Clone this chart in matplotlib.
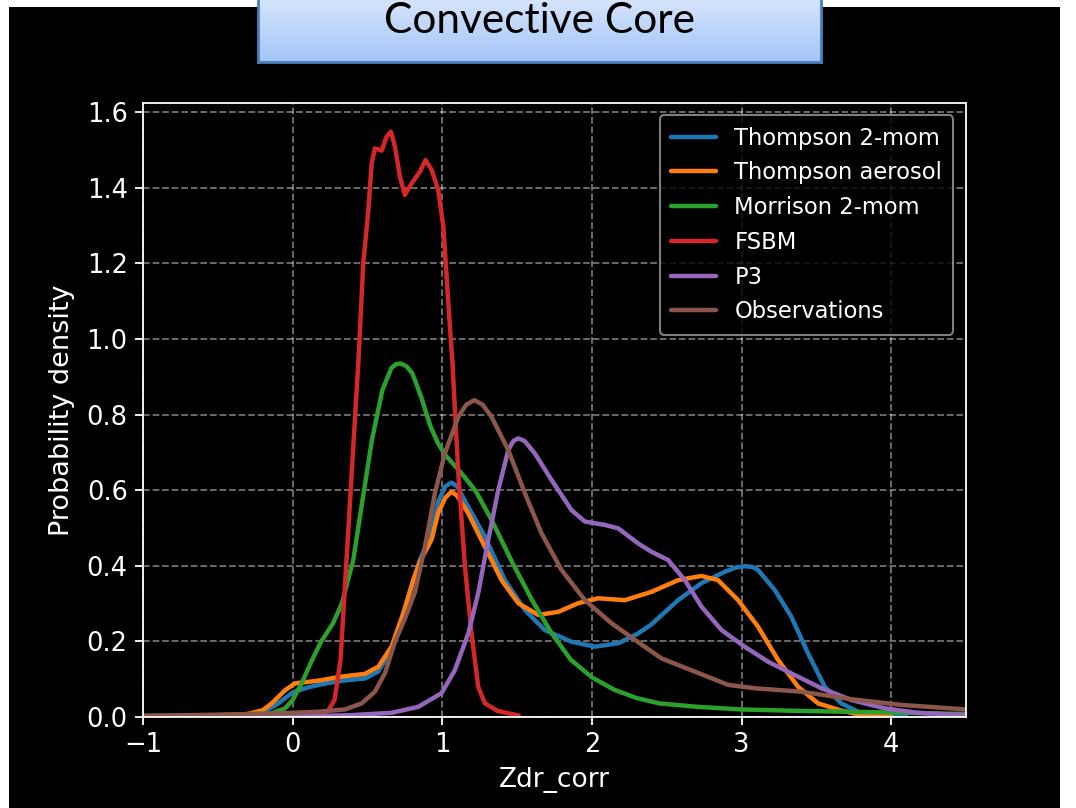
import matplotlib
matplotlib.use("Agg")
import matplotlib.pyplot as plt
import numpy as np

# ---- data ----
labels = ["Thompson 2-mom", "Thompson aerosol", "Morrison 2-mom", "FSBM", "P3", "Observations"]
colors = ["#1f77b4", "#ff7f0e", "#2ca02c", "#d62728", "#9467bd", "#8c564b"]

thompson2_x = [-1.0, -0.5, -0.3, -0.2, -0.1, 0.0, 0.1, 0.2, 0.327, 0.483, 0.572, 0.661, 0.739, 0.806,
               0.85, 0.929, 0.973, 1.02, 1.062, 1.1, 1.173, 1.285, 1.418, 1.552, 1.685, 1.864, 2.02,
               2.176, 2.309, 2.398, 2.576, 2.732, 2.888, 2.96, 3.021, 3.07, 3.11, 3.222, 3.333, 3.445,
               3.556, 3.667, 3.779, 3.9, 4.1]
thompson2_y = [0.001, 0.002, 0.006, 0.012, 0.035, 0.065, 0.078, 0.087, 0.096, 0.102, 0.12, 0.18, 0.27,
               0.36, 0.415, 0.49, 0.57, 0.61, 0.62, 0.61, 0.556, 0.477, 0.362, 0.283, 0.23, 0.199,
               0.186, 0.195, 0.221, 0.245, 0.309, 0.354, 0.384, 0.395, 0.399, 0.397, 0.389, 0.336,
               0.265, 0.168, 0.08, 0.036, 0.014, 0.004, 0.001]

aerosol_x = [-1.0, -0.5, -0.3, -0.2, -0.14, -0.05, 0.016, 0.17, 0.327, 0.483, 0.572, 0.661, 0.739,
             0.806, 0.85, 0.929, 0.973, 1.02, 1.062, 1.1, 1.173, 1.285, 1.396, 1.508, 1.641, 1.775,
             1.908, 2.042, 2.22, 2.398, 2.576, 2.732, 2.843, 2.977, 3.11, 3.244, 3.378, 3.512, 3.667,
             3.8, 4.0]
aerosol_y = [0.001, 0.003, 0.008, 0.018, 0.036, 0.071, 0.089, 0.096, 0.107, 0.114, 0.133, 0.186, 0.274,
             0.362, 0.41, 0.47, 0.54, 0.58, 0.596, 0.585, 0.539, 0.45, 0.362, 0.301, 0.27, 0.278,
             0.301, 0.314, 0.309, 0.331, 0.362, 0.373, 0.362, 0.309, 0.239, 0.151, 0.08, 0.036, 0.017,
             0.005, 0.001]

morrison_x = [-1.0, -0.5, -0.25, -0.14, -0.05, 0.0, 0.06, 0.13, 0.19, 0.27, 0.33, 0.37, 0.405, 0.46,
              0.53, 0.6, 0.66, 0.69, 0.72, 0.76, 0.8, 0.86, 0.92, 0.97, 1.02, 1.11, 1.22, 1.33, 1.46,
              1.6, 1.73, 1.86, 2.0, 2.15, 2.3, 2.45, 2.7, 3.0, 3.4, 3.85, 4.5]
morrison_y = [0.003, 0.005, 0.008, 0.01, 0.023, 0.045, 0.089, 0.151, 0.199, 0.248, 0.301, 0.362, 0.415,
              0.556, 0.733, 0.865, 0.923, 0.933, 0.935, 0.928, 0.909, 0.845, 0.77, 0.725, 0.693, 0.653,
              0.6, 0.521, 0.415, 0.309, 0.222, 0.151, 0.105, 0.072, 0.05, 0.036, 0.027, 0.02, 0.016,
              0.013, 0.008]

fsbm_x = [0.1, 0.18, 0.24, 0.28, 0.32, 0.34, 0.36, 0.40, 0.44, 0.472, 0.506, 0.528, 0.55, 0.595,
          0.628, 0.657, 0.684, 0.717, 0.75, 0.795, 0.85, 0.888, 0.929, 0.973, 1.007, 1.029, 1.051,
          1.067, 1.107, 1.151, 1.196, 1.24, 1.285, 1.37, 1.51]
fsbm_y = [0.0, 0.004, 0.018, 0.045, 0.151, 0.283, 0.415, 0.68, 0.944, 1.2, 1.341, 1.464, 1.504, 1.498,
          1.535, 1.548, 1.508, 1.429, 1.381, 1.411, 1.442, 1.473, 1.447, 1.394, 1.297, 1.165, 1.032,
          0.944, 0.645, 0.40, 0.22, 0.08, 0.036, 0.016, 0.004]

p3_x = [-1.0, 0.0, 0.394, 0.661, 0.84, 0.995, 1.084, 1.174, 1.24, 1.307, 1.374, 1.441, 1.475, 1.508,
        1.55, 1.619, 1.73, 1.864, 1.953, 2.087, 2.176, 2.309, 2.398, 2.51, 2.621, 2.732, 2.866,
        3.021, 3.178, 3.355, 3.534, 3.734, 3.957, 4.18, 4.5]
p3_y = [0.0, 0.001, 0.005, 0.011, 0.027, 0.063, 0.124, 0.221, 0.327, 0.468, 0.6, 0.706, 0.73, 0.737,
        0.73, 0.697, 0.627, 0.547, 0.517, 0.508, 0.499, 0.459, 0.437, 0.415, 0.362, 0.292, 0.23,
        0.186, 0.146, 0.111, 0.076, 0.045, 0.023, 0.011, 0.005]

obs_x = [-1.0, -0.5, -0.05, 0.17, 0.35, 0.461, 0.55, 0.617, 0.684, 0.75, 0.817, 0.884, 0.951, 1.017,
         1.107, 1.16, 1.214, 1.27, 1.329, 1.441, 1.552, 1.663, 1.797, 1.953, 2.131, 2.287, 2.465,
         2.688, 2.91, 3.088, 3.4, 3.734, 4.068, 4.5]
obs_y = [0.003, 0.006, 0.01, 0.014, 0.02, 0.036, 0.067, 0.116, 0.199, 0.26, 0.33, 0.45, 0.592, 0.697,
         0.794, 0.826, 0.838, 0.826, 0.794, 0.706, 0.592, 0.486, 0.389, 0.309, 0.248, 0.204, 0.155,
         0.12, 0.085, 0.076, 0.067, 0.047, 0.032, 0.02]

series_x = [thompson2_x, aerosol_x, morrison_x, fsbm_x, p3_x, obs_x]
series_y = [thompson2_y, aerosol_y, morrison_y, fsbm_y, p3_y, obs_y]

xticks = [-1, 0, 1, 2, 3, 4]
yticks = [0.0, 0.2, 0.4, 0.6, 0.8, 1.0, 1.2, 1.4, 1.6]

# ---- figure ----
plt.style.use("dark_background")
W, H = 1076, 808
fig = plt.figure(figsize=(W / 100, H / 100), dpi=100, facecolor="white")

# black slide area (background axes)
bg = fig.add_axes([9 / W, 0, (1060 - 9) / W, 1 - 7 / H], zorder=-10)
bg.set_facecolor("black")
bg.set_xticks([])
bg.set_yticks([])
for s in bg.spines.values():
    s.set_visible(False)

ax = fig.add_axes([143 / W, 1 - 717 / H, 823 / W, 614 / H], zorder=1)
ax.set_facecolor("black")
for xs, ys, lab, c in zip(series_x, series_y, labels, colors):
    ax.plot(xs, ys, color=c, lw=3.2, label=lab, solid_joinstyle="round", solid_capstyle="round")

ax.set_xlim(-1, 4.5)
ax.set_ylim(0, 1.624)
ax.set_xticks(xticks)
ax.set_yticks(yticks)
ax.set_yticklabels([f"{v:.1f}" for v in yticks])
ax.tick_params(labelsize=18.5, length=6, width=1.3, colors="white", pad=5)
ax.grid(True, linestyle="--", color="white", alpha=0.45, linewidth=1.3)
for s in ax.spines.values():
    s.set_color("white")
    s.set_linewidth(1.3)
ax.set_xlabel("Zdr_corr", fontsize=19, color="white", labelpad=6)
ax.set_ylabel("Probability density", fontsize=19.5, color="white", labelpad=8)

leg = ax.legend(loc="upper right", fontsize=16.3, facecolor="black", edgecolor="#a0a0a0",
                framealpha=0.8, handlelength=2.0, labelspacing=0.52, borderpad=0.5,
                bbox_to_anchor=(0.9985, 0.9985))
leg.get_frame().set_linewidth(1.5)

# title box with gradient
tax = fig.add_axes([258 / W, 1 - 62 / H, (821 - 258) / W, 70 / H], zorder=2)
grad = np.linspace(0, 1, 100).reshape(-1, 1)
top = np.array([0.86, 0.91, 0.99])
bot = np.array([0.64, 0.77, 0.97])
img = top[None, None, :] * (1 - grad[:, :, None]) + bot[None, None, :] * grad[:, :, None]
tax.imshow(img, aspect="auto", extent=[0, 1, 0, 1], origin="upper")
tax.set_xlim(0, 1)
tax.set_ylim(0, 1)
tax.set_xticks([])
tax.set_yticks([])
for s in tax.spines.values():
    s.set_color("#4a7ebb")
    s.set_linewidth(2)
tax.text(0.5, 1 - 29 / 70, "Convective Core", fontsize=30.5, color="black",
         ha="center", va="center", family=["Lato", "DejaVu Sans"], transform=tax.transAxes)

fig.savefig("out.png", dpi=100, facecolor="white")
